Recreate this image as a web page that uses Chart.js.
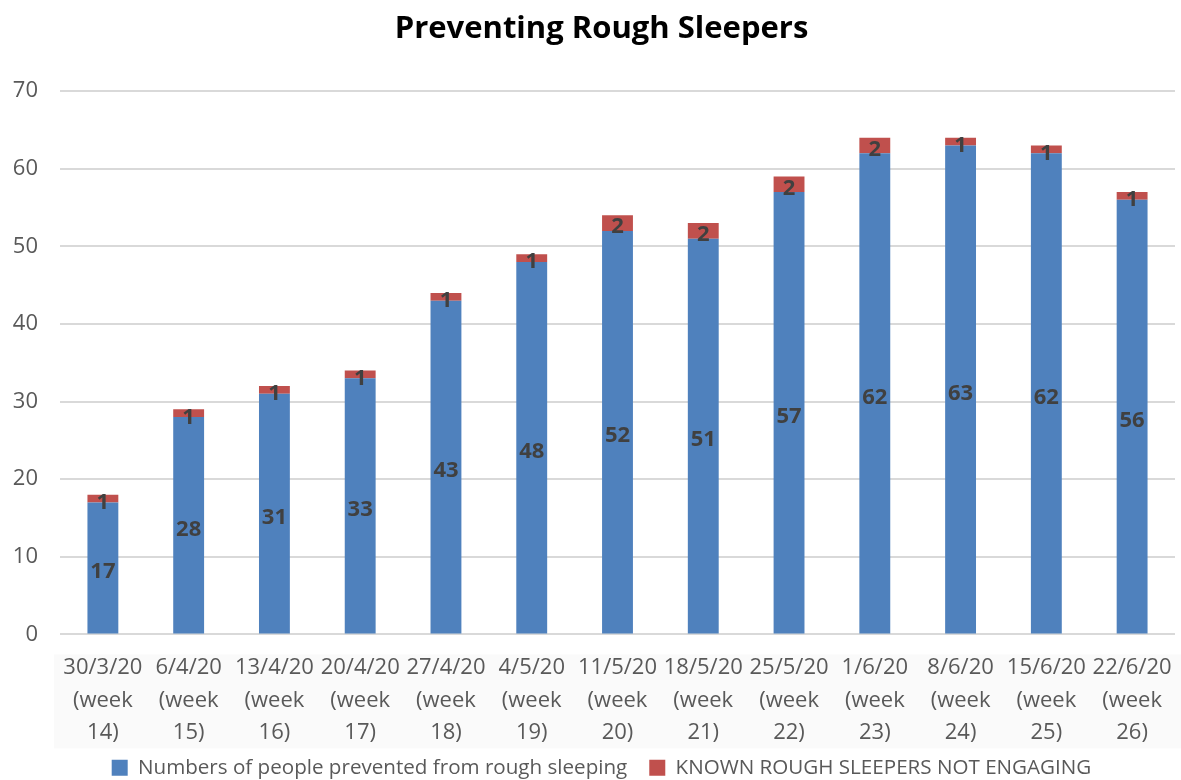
<!DOCTYPE html>
<html>
<head>
<meta charset="utf-8">
<title>Preventing Rough Sleepers</title>
<script src="https://cdn.jsdelivr.net/npm/chart.js@4/dist/chart.umd.min.js"></script>
<style>
  html, body { margin: 0; padding: 0; background: #ffffff; }
  #wrap { width: 1181px; height: 780px; }
</style>
</head>
<body>
<div id="wrap"><canvas id="chart" width="1181" height="780"></canvas></div>
<script>
// Week-commencing dates with their week numbers (multi-line tick labels)
const weekLabels = [
  ['30/3/20', '(week', '14)'],
  ['6/4/20', '(week', '15)'],
  ['13/4/20', '(week', '16)'],
  ['20/4/20', '(week', '17)'],
  ['27/4/20', '(week', '18)'],
  ['4/5/20', '(week', '19)'],
  ['11/5/20', '(week', '20)'],
  ['18/5/20', '(week', '21)'],
  ['25/5/20', '(week', '22)'],
  ['1/6/20', '(week', '23)'],
  ['8/6/20', '(week', '24)'],
  ['15/6/20', '(week', '25)'],
  ['22/6/20', '(week', '26)']
];

// Weekly counts
const prevented = [17, 28, 31, 33, 43, 48, 52, 51, 57, 62, 63, 62, 56];
const notEngaging = [1, 1, 1, 1, 1, 1, 2, 2, 2, 2, 1, 1, 1];

const seriesNames = [
  'Numbers of people prevented from rough sleeping',
  'KNOWN ROUGH SLEEPERS NOT ENGAGING'
];

const yTicks = [0, 10, 20, 30, 40, 50, 60, 70];

const FONT = "'Open Sans', 'Liberation Sans', sans-serif";
const X_AXIS_HEIGHT = 101;

// Let the axis labels use the full margin instead of being clipped to the scale boxes
const axisRoom = {
  id: 'axisRoom',
  afterLayout(chart) {
    chart.scales.y.left = 0;
    chart.scales.x.bottom = chart.scales.x.top + X_AXIS_HEIGHT + 20;
  }
};

// Faint band behind the category labels
const labelBand = {
  id: 'labelBand',
  beforeDraw(chart) {
    const x = chart.scales.x;
    const ctx = chart.ctx;
    ctx.save();
    ctx.fillStyle = '#fafafa';
    ctx.fillRect(x.left - 6, x.top + 20, chart.width - x.left + 6, 94);
    ctx.restore();
  }
};

// Writes each segment's value in the middle of its bar segment
const segmentLabels = {
  id: 'segmentLabels',
  afterDatasetsDraw(chart) {
    const ctx = chart.ctx;
    ctx.save();
    ctx.font = 'bold 22px ' + FONT;
    ctx.fillStyle = '#404040';
    ctx.textAlign = 'center';
    ctx.textBaseline = 'middle';
    chart.data.datasets.forEach((ds, di) => {
      const meta = chart.getDatasetMeta(di);
      meta.data.forEach((bar, i) => {
        const p = bar.getProps(['x', 'y', 'base'], true);
        ctx.fillText(String(ds.data[i]), p.x, (p.y + p.base) / 2 + 4);
      });
    });
    ctx.restore();
  }
};

new Chart(document.getElementById('chart'), {
  type: 'bar',
  data: {
    labels: weekLabels,
    datasets: [
      {
        label: seriesNames[0],
        data: prevented,
        backgroundColor: '#4F81BD',
        categoryPercentage: 1,
        barPercentage: 0.36
      },
      {
        label: seriesNames[1],
        data: notEngaging,
        backgroundColor: '#C0504D',
        categoryPercentage: 1,
        barPercentage: 0.36
      }
    ]
  },
  options: {
    responsive: false,
    animation: false,
    devicePixelRatio: 1,
    layout: { padding: { left: 28, right: 6, top: 0, bottom: -8 } },
    plugins: {
      title: {
        display: true,
        text: 'Preventing Rough Sleepers',
        color: '#000000',
        font: { family: FONT, size: 31, weight: 'bold', lineHeight: 1.2 },
        padding: { top: 11, bottom: 43 }
      },
      legend: {
        position: 'bottom',
        labels: {
          color: '#595959',
          font: { family: FONT, size: 20.6 },
          boxWidth: 16,
          boxHeight: 16,
          padding: 22
        }
      },
      tooltip: { enabled: false }
    },
    scales: {
      x: {
        stacked: true,
        afterFit(scale) {
          scale.height = X_AXIS_HEIGHT;
          scale.paddingLeft = 0;
          scale.paddingRight = 0;
        },
        grid: { display: false, drawTicks: false },
        border: { display: false },
        ticks: {
          color: '#595959',
          font: { family: FONT, size: 22, lineHeight: 1.48 },
          maxRotation: 0,
          autoSkip: false,
          padding: 17
        }
      },
      y: {
        stacked: true,
        min: 0,
        max: 70,
        afterFit(scale) { scale.width = 32; },
        afterBuildTicks(scale) { scale.ticks = yTicks.map(v => ({ value: v })); },
        grid: { color: '#d9d9d9', lineWidth: 2, drawTicks: false },
        border: { display: false },
        ticks: {
          color: '#595959',
          font: { family: FONT, size: 22 },
          padding: 22
        }
      }
    }
  },
  plugins: [axisRoom, labelBand, segmentLabels]
});
</script>
</body>
</html>
